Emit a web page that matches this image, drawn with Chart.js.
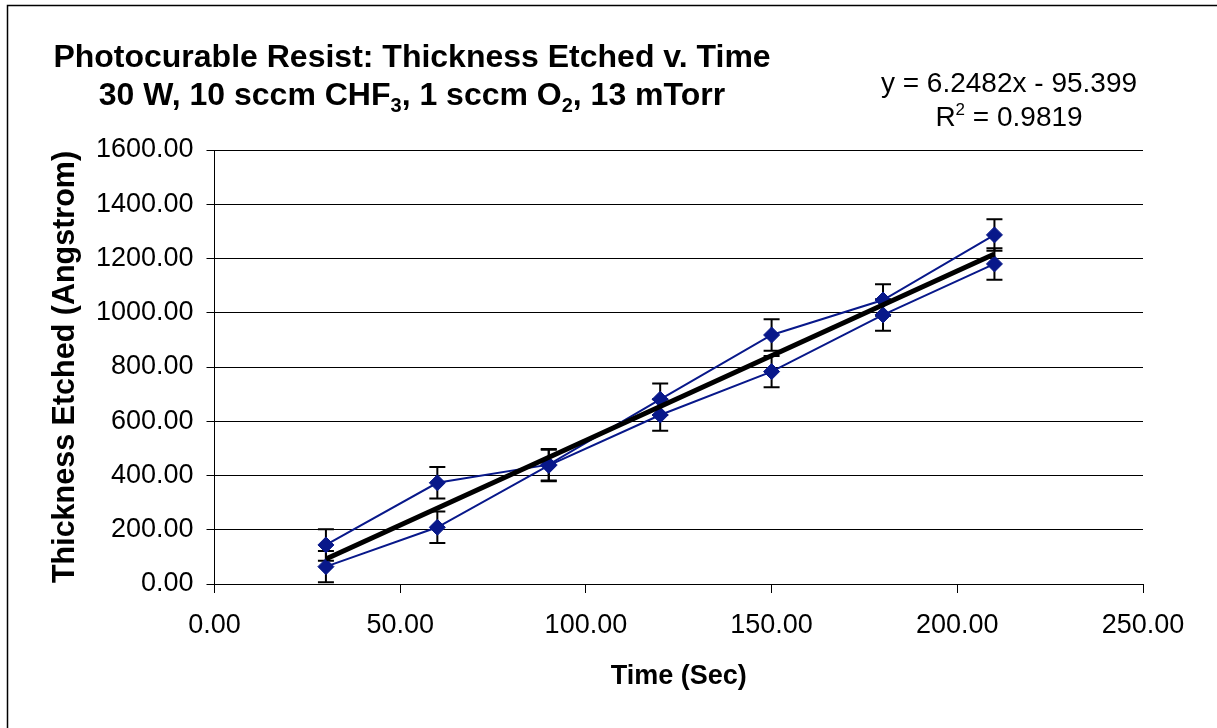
<!DOCTYPE html>
<html>
<head>
<meta charset="utf-8">
<script src="https://cdn.jsdelivr.net/npm/chart.js@4.4.1/dist/chart.umd.min.js"></script>
<style>
html, body { margin: 0; padding: 0; background: #fff; }
canvas { display: block; }
</style>
</head>
<body>
<canvas id="etchChart" width="1217" height="728"></canvas>
<script>
// etch time (sec) and thickness etched (angstrom), two runs
const times = [30, 60, 90, 120, 150, 180, 210];
const runA = [144, 373, 440, 681, 918, 1047, 1287];
const runB = [64, 209, 437, 623, 783, 992, 1180];
const errA = [58, 58, 58, 58, 58, 58, 58];
const errB = [58, 58, 58, 58, 58, 58, 58];

const xTicks = [0, 50, 100, 150, 200, 250];
const yTicks = [0, 200, 400, 600, 800, 1000, 1200, 1400, 1600];

// linear trendline as printed on the chart
const fitSlope = 6.2482;
const fitIntercept = -95.399;
const fitRange = [30, 210];

const FONT = '"Liberation Sans", Arial, sans-serif';
const BLUE = '#08188a';

function richText(ctx, parts, cx, y, size, bold) {
  const w0 = bold ? 'bold ' : '';
  const base = w0 + size + 'px ' + FONT;
  const small = w0 + Math.round(size * 0.62) + 'px ' + FONT;
  let total = 0;
  parts.forEach(p => {
    ctx.font = p.s ? small : base;
    p.w = ctx.measureText(p.t).width;
    total += p.w;
  });
  let x = cx - total / 2;
  parts.forEach(p => {
    ctx.font = p.s ? small : base;
    let dy = 0;
    if (p.s === 'sub') dy = size * 0.22;
    if (p.s === 'sup') dy = -size * 0.4;
    ctx.fillText(p.t, x, y + dy);
    x += p.w;
  });
}

const decor = {
  id: 'decor',
  beforeDraw(chart) {
    const ctx = chart.ctx;
    ctx.save();
    ctx.fillStyle = '#fff';
    ctx.fillRect(0, 0, chart.width, chart.height);
    ctx.strokeStyle = '#000';
    ctx.lineWidth = 1.5;
    ctx.strokeRect(7.5, 5.5, 1400, 900);
    ctx.restore();
  },
  beforeDatasetsDraw(chart) {
    const ctx = chart.ctx;
    const xs = chart.scales.x, ys = chart.scales.y;
    ctx.save();
    ctx.strokeStyle = '#000';
    ctx.lineWidth = 2;
    [[runA, errA], [runB, errB]].forEach(([vals, errs]) => {
      vals.forEach((v, i) => {
        const px = xs.getPixelForValue(times[i]);
        const top = ys.getPixelForValue(v + errs[i]);
        const bot = ys.getPixelForValue(v - errs[i]);
        ctx.beginPath();
        ctx.moveTo(px, top); ctx.lineTo(px, bot);
        ctx.moveTo(px - 8, top); ctx.lineTo(px + 8, top);
        ctx.moveTo(px - 8, bot); ctx.lineTo(px + 8, bot);
        ctx.stroke();
      });
    });
    ctx.restore();
  },
  afterDraw(chart) {
    const ctx = chart.ctx;
    ctx.save();
    ctx.fillStyle = '#000';
    ctx.textAlign = 'left';
    ctx.textBaseline = 'alphabetic';
    richText(ctx, [{t: 'Photocurable Resist: Thickness Etched v. Time'}], 412, 67, 32, true);
    richText(ctx, [
      {t: '30 W, 10 sccm CHF'}, {t: '3', s: 'sub'},
      {t: ', 1 sccm O'}, {t: '2', s: 'sub'},
      {t: ', 13 mTorr'}
    ], 412, 105, 32, true);
    richText(ctx, [{t: 'y = 6.2482x - 95.399'}], 1009, 92, 28, false);
    richText(ctx, [{t: 'R'}, {t: '2', s: 'sup'}, {t: ' = 0.9819'}], 1009, 126, 28, false);
    ctx.restore();
  }
};

new Chart(document.getElementById('etchChart'), {
  type: 'scatter',
  data: {
    datasets: [
      {
        label: 'Linear fit',
        data: fitRange.map(x => ({x: x, y: fitSlope * x + fitIntercept})),
        showLine: true,
        borderColor: '#000',
        borderWidth: 5,
        pointRadius: 0,
        order: 0
      },
      {
        label: 'Run A',
        data: times.map((t, i) => ({x: t, y: runA[i]})),
        showLine: true,
        borderColor: BLUE,
        borderWidth: 2,
        pointStyle: 'rectRot',
        pointRadius: 8,
        pointBackgroundColor: BLUE,
        pointBorderColor: BLUE,
        pointBorderWidth: 1,
        order: 1
      },
      {
        label: 'Run B',
        data: times.map((t, i) => ({x: t, y: runB[i]})),
        showLine: true,
        borderColor: BLUE,
        borderWidth: 2,
        pointStyle: 'rectRot',
        pointRadius: 8,
        pointBackgroundColor: BLUE,
        pointBorderColor: BLUE,
        pointBorderWidth: 1,
        order: 2
      }
    ]
  },
  options: {
    responsive: false,
    animation: false,
    events: [],
    layout: { padding: { left: 0, top: 150, right: 74, bottom: 0 } },
    plugins: {
      legend: { display: false },
      tooltip: { enabled: false }
    },
    scales: {
      x: {
        type: 'linear',
        min: 0,
        max: 250,
        afterBuildTicks: s => { s.ticks = xTicks.map(v => ({value: v})); },
        afterFit: s => { s.height = 144; },
        ticks: {
          callback: v => v.toFixed(2),
          color: '#000',
          font: { family: FONT, size: 27 },
          padding: 16,
          maxRotation: 0,
          autoSkip: false
        },
        grid: { drawOnChartArea: false, drawTicks: true, tickLength: 9, color: '#000' },
        border: { color: '#000', width: 1 },
        title: {
          display: true,
          text: 'Time (Sec)',
          color: '#000',
          font: { family: FONT, size: 27, weight: 'bold' },
          padding: { top: 0, bottom: 35 }
        }
      },
      y: {
        type: 'linear',
        min: 0,
        max: 1600,
        afterBuildTicks: s => { s.ticks = yTicks.map(v => ({value: v})); },
        afterFit: s => { s.width = 214.5; },
        ticks: {
          callback: v => v.toFixed(2),
          color: '#000',
          font: { family: FONT, size: 27 },
          padding: 13,
          autoSkip: false
        },
        grid: { color: '#000', lineWidth: 1, tickLength: 8 },
        border: { color: '#000', width: 1 },
        title: {
          display: true,
          text: 'Thickness Etched (Angstrom)',
          color: '#000',
          font: { family: FONT, size: 30.5, weight: 'bold' },
          padding: { top: 47, bottom: 0 }
        }
      }
    }
  },
  plugins: [decor]
});
</script>
</body>
</html>
